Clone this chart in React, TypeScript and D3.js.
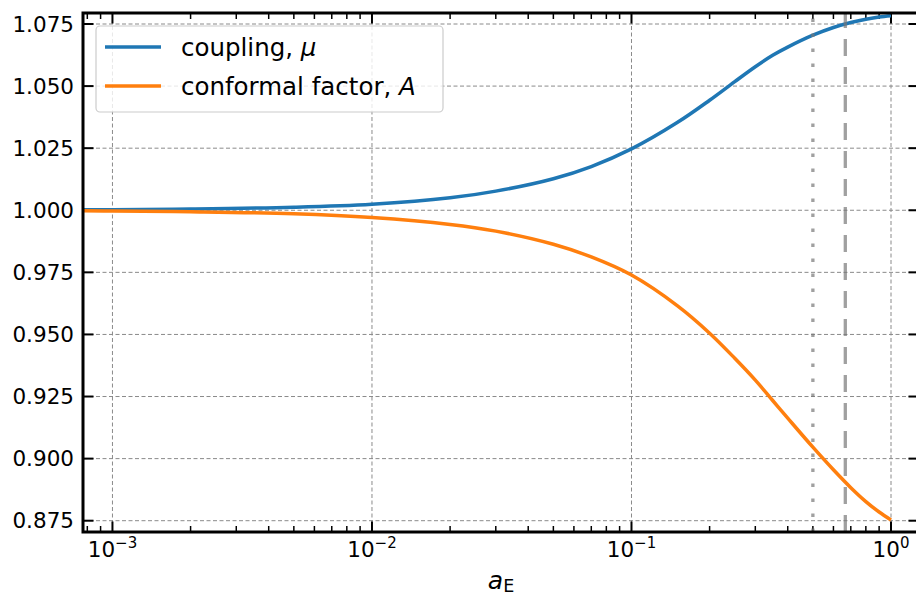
import React, { useEffect, useRef } from "react";
import * as d3 from "d3";

// scale factor a_E and the two curves
const aValues = [
  7.7e-4, 1e-3, 2e-3, 5e-3, 0.01, 0.02, 0.03, 0.05, 0.07, 0.1, 0.15, 0.2, 0.25,
  0.3, 0.35, 0.4, 0.5, 0.6, 0.7, 0.8, 0.9, 1.0,
];
const couplingMu = [
  1.0002, 1.00025, 1.0005, 1.0012, 1.0024, 1.005, 1.0077, 1.0127, 1.0176,
  1.0247, 1.0353, 1.0443, 1.0518, 1.0578, 1.0624, 1.0657, 1.0705, 1.0736,
  1.0756, 1.0769, 1.0778, 1.0783,
];
const conformalA = [
  0.9998, 0.9997, 0.9994, 0.9986, 0.9971, 0.9943, 0.9916, 0.9863, 0.9812,
  0.9739, 0.9616, 0.9505, 0.9404, 0.9316, 0.9234, 0.9163, 0.9046, 0.8955,
  0.8883, 0.8827, 0.8785, 0.8753,
];

const yTicks = [0.875, 0.9, 0.925, 0.95, 0.975, 1.0, 1.025, 1.05, 1.075];
const xMajor = [1e-3, 1e-2, 1e-1, 1e0];
const xMajorExp = ["−3", "−2", "−1", "0"];
const markerLines = [0.5, 2 / 3]; // dotted, dashed

const seriesNames = ["coupling, ", "conformal factor, "];
const seriesSymbols = ["μ", "A"];
const seriesColors = ["#1f77b4", "#ff7f0e"];

const W = 916;
const H = 595;
const M = { left: 83, right: 919, top: 13, bottom: 532 };

const App = () => {
  const svgRef = useRef<SVGSVGElement>(null);

  useEffect(() => {
    const svg = d3.select(svgRef.current);
    svg.selectAll("*").remove();

    const x = d3.scaleLog().domain([7.7e-4, 1.282]).range([M.left, M.right]);
    const y = d3.scaleLinear().domain([0.87045, 1.07943]).range([M.bottom, M.top]);

    svg
      .append("defs")
      .append("clipPath")
      .attr("id", "plotclip")
      .append("rect")
      .attr("x", M.left)
      .attr("y", M.top)
      .attr("width", M.right - M.left)
      .attr("height", M.bottom - M.top);

    const font = "DejaVu Sans, sans-serif";

    // grid
    const grid = svg.append("g").attr("clip-path", "url(#plotclip)");
    grid
      .selectAll(".gy")
      .data(yTicks)
      .join("line")
      .attr("x1", M.left)
      .attr("x2", M.right)
      .attr("y1", (d) => y(d))
      .attr("y2", (d) => y(d))
      .attr("stroke", "#8a8a8a")
      .attr("stroke-width", 1)
      .attr("stroke-dasharray", "4,2.5");
    grid
      .selectAll(".gx")
      .data(xMajor)
      .join("line")
      .attr("x1", (d) => x(d))
      .attr("x2", (d) => x(d))
      .attr("y1", M.top)
      .attr("y2", M.bottom)
      .attr("stroke", "#8a8a8a")
      .attr("stroke-width", 1)
      .attr("stroke-dasharray", "4,2.5");

    // ticks, inward on all four sides
    const minor: number[] = [];
    [-4, -3, -2, -1, 0].forEach((e) => {
      for (let k = 2; k <= 9; k++) {
        const v = k * Math.pow(10, e);
        if (v >= x.domain()[0] && v <= x.domain()[1]) minor.push(v);
      }
    });
    const ticks = svg.append("g").attr("stroke", "#000");
    [M.bottom, M.top].forEach((base) => {
      const dir = base === M.bottom ? -1 : 1;
      ticks
        .append("g")
        .selectAll("line")
        .data(xMajor)
        .join("line")
        .attr("x1", (d) => x(d))
        .attr("x2", (d) => x(d))
        .attr("y1", base)
        .attr("y2", base + dir * 10.5)
        .attr("stroke-width", 2);
      ticks
        .append("g")
        .selectAll("line")
        .data(minor)
        .join("line")
        .attr("x1", (d) => x(d))
        .attr("x2", (d) => x(d))
        .attr("y1", base)
        .attr("y2", base + dir * 6)
        .attr("stroke-width", 1.5);
    });
    [M.left, M.right].forEach((base) => {
      const dir = base === M.left ? 1 : -1;
      ticks
        .append("g")
        .selectAll("line")
        .data(yTicks)
        .join("line")
        .attr("x1", base)
        .attr("x2", base + dir * 10.5)
        .attr("y1", (d) => y(d))
        .attr("y2", (d) => y(d))
        .attr("stroke-width", 2);
    });

    // curves
    const line = d3
      .line<number>()
      .x((d, i) => x(aValues[i]))
      .y((d) => y(d))
      .curve(d3.curveCatmullRom.alpha(0.5));
    const curves = svg.append("g").attr("clip-path", "url(#plotclip)");
    [couplingMu, conformalA].forEach((vals, i) => {
      curves
        .append("path")
        .datum(vals)
        .attr("d", line)
        .attr("fill", "none")
        .attr("stroke", seriesColors[i])
        .attr("stroke-width", 3.5);
    });

    // marker lines at a_E = 1/2 (dotted) and 2/3 (dashed)
    markerLines.forEach((v, i) => {
      curves
        .append("line")
        .attr("x1", x(v))
        .attr("x2", x(v))
        .attr("y1", M.bottom)
        .attr("y2", M.top)
        .attr("stroke", "#777")
        .attr("stroke-opacity", 0.7)
        .attr("stroke-width", 3.3)
        .attr("stroke-dasharray", i === 0 ? "3.5,11.5" : "17,11");
    });

    // spines
    svg
      .append("rect")
      .attr("x", M.left)
      .attr("y", M.top)
      .attr("width", M.right - M.left)
      .attr("height", M.bottom - M.top)
      .attr("fill", "none")
      .attr("stroke", "#000")
      .attr("stroke-width", 3);

    // y tick labels
    svg
      .append("g")
      .selectAll("text")
      .data(yTicks)
      .join("text")
      .attr("x", 74)
      .attr("y", (d) => y(d))
      .attr("dy", "0.36em")
      .attr("text-anchor", "end")
      .style("font-family", font)
      .style("font-size", "21.5px")
      .text((d) => d3.format(".3f")(d));

    // x tick labels 10^n
    const xl = svg
      .append("g")
      .selectAll("text")
      .data(xMajor)
      .join("text")
      .attr("x", (d) => x(d))
      .attr("y", 557)
      .attr("text-anchor", "middle")
      .style("font-family", font)
      .style("font-size", "21.5px");
    xl.append("tspan").text("10");
    xl.append("tspan")
      .attr("dy", -9)
      .style("font-size", "15px")
      .text((d, i) => xMajorExp[i]);

    // x axis label
    const xlab = svg
      .append("text")
      .attr("x", (M.left + M.right) / 2)
      .attr("y", 589)
      .attr("text-anchor", "middle")
      .style("font-family", font)
      .style("font-size", "25px");
    xlab.append("tspan").style("font-style", "italic").text("a");
    xlab.append("tspan").attr("dy", 3).style("font-size", "17.5px").text("E");

    // legend
    const lg = svg.append("g");
    lg.append("rect")
      .attr("x", 96)
      .attr("y", 26)
      .attr("width", 347)
      .attr("height", 86)
      .attr("rx", 4)
      .attr("fill", "#fff")
      .attr("fill-opacity", 0.8)
      .attr("stroke", "#cccccc")
      .attr("stroke-width", 1.2);
    seriesNames.forEach((name, i) => {
      const ly = 47 + i * 39;
      lg.append("line")
        .attr("x1", 105)
        .attr("x2", 161)
        .attr("y1", ly)
        .attr("y2", ly)
        .attr("stroke", seriesColors[i])
        .attr("stroke-width", 3.5);
      const t = lg
        .append("text")
        .attr("x", 181)
        .attr("y", ly)
        .attr("dy", "0.36em")
        .style("font-family", font)
        .style("font-size", "24.5px");
      t.append("tspan").text(name);
      t.append("tspan").style("font-style", "italic").text(seriesSymbols[i]);
    });
  }, []);

  return (
    <svg
      ref={svgRef}
      width={W}
      height={H}
      style={{ position: "absolute", left: 0, top: 0, background: "#fff" }}
    />
  );
};

export default App;
